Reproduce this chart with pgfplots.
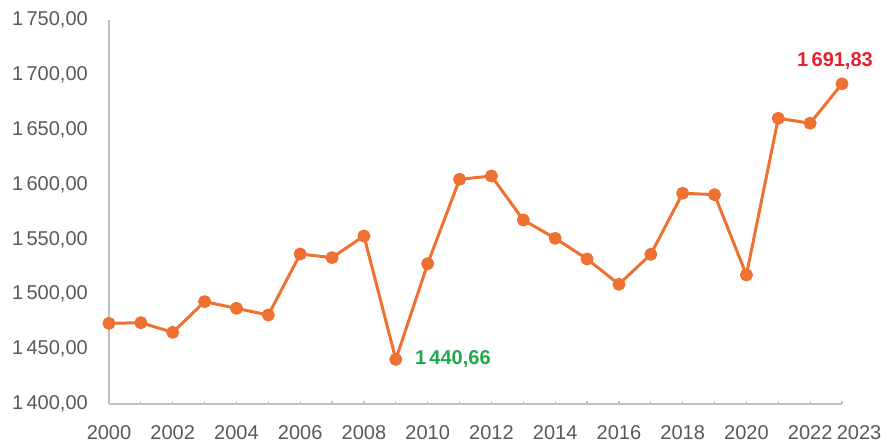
\documentclass[border=0pt]{standalone}
\usepackage{pgfplots}
\pgfplotsset{compat=1.18}
\usepackage{fontspec}
\setmainfont{Liberation Sans}
\definecolor{lineor}{HTML}{EE7131}
\definecolor{axgray}{HTML}{BFBFBF}
\definecolor{txtgray}{HTML}{595959}
\definecolor{lblred}{HTML}{E8202E}
\definecolor{lblgreen}{HTML}{1FA84E}
\begin{document}
\begin{tikzpicture}
\begin{axis}[
  scale only axis,
  width=733bp, height=384bp,
  xmin=2000, xmax=2023,
  ymin=1400, ymax=1750,
  axis x line=bottom, axis y line=left,
  axis line style={draw=axgray, line width=1.5bp, -},
  xtick={2000,2001,...,2022},
  xticklabels={2000,,2002,,2004,,2006,,2008,,2010,,2012,,2014,,2016,,2018,,2020,,2022},
  extra x ticks={2023},
  extra x tick labels={2023},
  extra x tick style={tick label style={xshift=17bp}},
  ytick={1400,1450,...,1750},
  tick align=inside,
  major tick length=3.5bp,
  x tick style={draw=axgray, line width=1.2bp},
  y tick style={draw=none},
  font=\fontsize{20bp}{24bp}\selectfont,
  tick label style={text=txtgray, font=\fontsize{20bp}{24bp}\selectfont},
  /pgf/number format/assume math mode=true,
  yticklabel style={anchor=east, inner sep=0pt, xshift=-21bp,
    /pgf/number format/.cd, fixed, fixed zerofill, precision=2, use comma, 1000 sep={\,}},
  xticklabel style={anchor=north, inner sep=0pt, yshift=-21bp},
  clip=false,
]
\addplot[color=lineor, line width=3bp, line join=round, line cap=round, mark=*, mark size=5bp, mark options={solid, fill=lineor, draw=none}]
coordinates {
(2000,1473.5) (2001,1474.1) (2002,1465.3) (2003,1493.3) (2004,1487.2)
(2005,1481.1) (2006,1536.7) (2007,1533.4) (2008,1553.1) (2009,1440.66)
(2010,1527.9) (2011,1604.8) (2012,1607.8) (2013,1567.7) (2014,1551.0)
(2015,1532.2) (2016,1509.1) (2017,1536.4) (2018,1592.1) (2019,1590.8)
(2020,1517.6) (2021,1660.4) (2022,1655.9) (2023,1691.83)
};
\node[anchor=south, inner sep=0pt, xshift=-7bp, yshift=14bp, text=lblred, font=\fontsize{20bp}{24bp}\selectfont\bfseries] at (axis cs:2023,1691.83) {1\,691,83};
\node[anchor=west, inner sep=0pt, xshift=19bp, text=lblgreen, font=\fontsize{20bp}{24bp}\selectfont\bfseries] at (axis cs:2009,1440.66) {1\,440,66};
\coordinate (bl) at (rel axis cs:0,0);
\coordinate (tr) at (rel axis cs:1,1);
\end{axis}
\pgfresetboundingbox
\path[use as bounding box] ([shift={(-109bp,-39bp)}]bl) rectangle ([shift={(45bp,20bp)}]tr);
\end{tikzpicture}
\end{document}
